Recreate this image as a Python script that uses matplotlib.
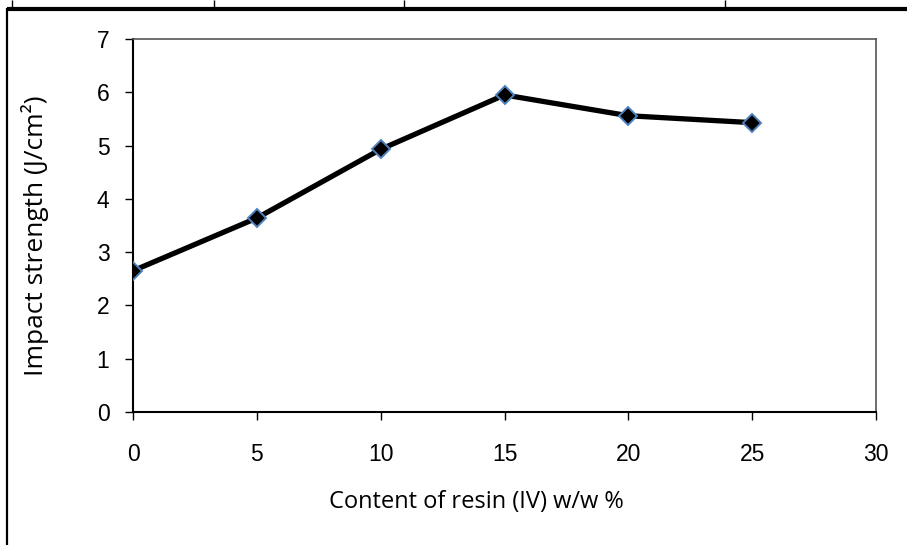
import matplotlib
matplotlib.use("Agg")
import matplotlib.pyplot as plt
from matplotlib.lines import Line2D

# Impact strength versus resin content
resin_content = [0, 5, 10, 15, 20, 25]
impact_strength = [2.65, 3.64, 4.93, 5.95, 5.56, 5.43]
x_ticks = [0, 5, 10, 15, 20, 25, 30]
y_ticks = [0, 1, 2, 3, 4, 5, 6, 7]

W, H = 907, 545
fig = plt.figure(figsize=(W / 100, H / 100), dpi=100)


def px(x0, y0, x1, y1, lw, color="black"):
    fig.add_artist(Line2D([x0 / W, x1 / W], [1 - y0 / H, 1 - y1 / H],
                          transform=fig.transFigure, lw=lw, color=color,
                          solid_capstyle="butt"))


# surrounding table rules
px(7, 8.5, W, 8.5, 3.0)
px(7, 8, 7, H, 1.6)
for xv in (12, 214, 404, 725):
    px(xv, 0, xv, 8, 1.0)

ax = fig.add_axes([133 / W, 1 - 412 / H, (876 - 133) / W, (412 - 39) / H])
ax.plot(resin_content, impact_strength, color="black", lw=3.8,
        marker="D", ms=9.5, mfc="black", mec="#4F81BD", mew=1.4,
        solid_joinstyle="round", zorder=3)

ax.set_xlim(0, 30)
ax.set_ylim(0, 7)
ax.set_xticks(x_ticks)
ax.set_yticks(y_ticks)

tick_font = dict(family="Liberation Sans", size=16.5)
ax.set_xticklabels([str(v) for v in x_ticks], fontdict=tick_font)
ax.set_yticklabels([str(v) for v in y_ticks], fontdict=tick_font)
ax.tick_params(axis="x", direction="out", length=6, width=1.0, pad=16)
ax.tick_params(axis="y", direction="out", length=6, width=1.0, pad=11)

for side in ("left", "bottom"):
    ax.spines[side].set_linewidth(1.5)
    ax.spines[side].set_color("black")
for side in ("top", "right"):
    ax.spines[side].set_linewidth(1.2)
    ax.spines[side].set_color("#555555")

fig.text(476 / W, 1 - 502 / H, "Content of resin (IV) w/w %",
         ha="center", va="center", family="Open Sans", size=17)
fig.text(35 / W, 1 - 236 / H, "Impact strength (J/cm²)", rotation=90,
         ha="center", va="center", family="Open Sans", size=19)

fig.savefig("out.png", dpi=100)
